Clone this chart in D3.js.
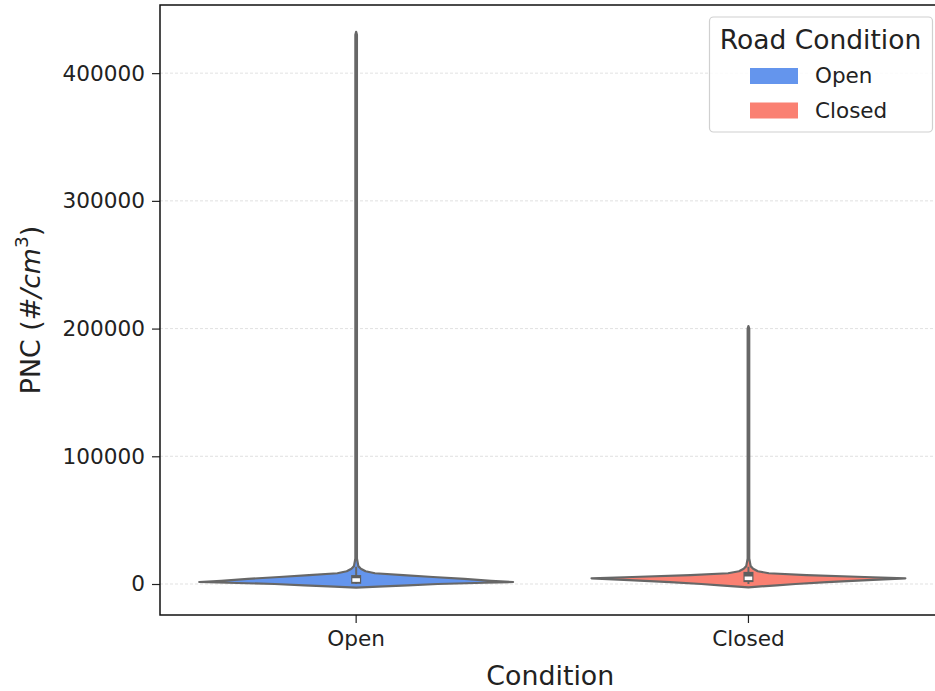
<!DOCTYPE html>
<html>
<head>
<meta charset="utf-8">
<script src="https://cdn.jsdelivr.net/npm/d3@7"></script>
<style>
  body { margin: 0; background: #fff; }
  svg { display: block; font-family: "DejaVu Sans", sans-serif; }
</style>
</head>
<body>
<div id="chart"></div>
<script>
// categories + colours
var categories = ["Open", "Closed"];
var colors = ["#6495ED", "#FA8072"];

// density profile (PNC value, relative width)
var openPnc     = [-2800, -2000, -1000, 0, 1000, 1566, 2500, 4000, 5500, 7000, 8400, 10000, 12000, 14000, 20000, 430000, 432400];
var openDensity = [0, 0.14, 0.33, 0.52, 0.82, 1.0, 0.86, 0.69, 0.49, 0.30, 0.12, 0.06, 0.03, 0.014, 0.005, 0.005, 0];

var closedPnc     = [-2600, -1000, 0, 1500, 3000, 4460, 5500, 7000, 8400, 10000, 12000, 14000, 20000, 200000, 202000];
var closedDensity = [0, 0.18, 0.30, 0.50, 0.76, 1.0, 0.74, 0.37, 0.13, 0.06, 0.03, 0.014, 0.005, 0.005, 0];

// inner box stats
var q1s = [200, 1500];
var medians = [3100, 4460];
var q3s = [7000, 9500];
var whiskLo = [0, 0];
var whiskHi = [13500, 13500];

var yTicks = [0, 100000, 200000, 300000, 400000];
var yDomain = [-24270, 453360];

var width = 935, height = 691;
var margin = {top: 5, left: 160, bottom: 76};
var plotRight = 944.6;   // right spine sits just past the window edge

var svg = d3.select("#chart").append("svg")
    .attr("width", width)
    .attr("height", height);

var x = d3.scaleBand()
    .domain(categories)
    .range([margin.left, plotRight])
    .padding(0);

var y = d3.scaleLinear()
    .domain(yDomain)
    .range([height - margin.bottom, margin.top]);

// grid
svg.append("g").selectAll("line")
    .data(yTicks)
    .enter().append("line")
    .attr("x1", margin.left)
    .attr("x2", plotRight)
    .attr("y1", function(d){ return y(d); })
    .attr("y2", function(d){ return y(d); })
    .attr("stroke", "#d9d9d9")
    .attr("stroke-width", 0.8)
    .attr("stroke-dasharray", "3,2");

// violins
var profiles = [
    {pnc: openPnc, dens: openDensity},
    {pnc: closedPnc, dens: closedDensity}
];
var halfMax = x.bandwidth() * 0.4;

profiles.forEach(function(p, i){
    var cx = x(categories[i]) + x.bandwidth() / 2;
    var pts = p.pnc.map(function(v, j){ return {v: v, d: p.dens[j]}; });
    var area = d3.area()
        .y(function(d){ return y(d.v); })
        .x0(function(d){ return cx - d.d * halfMax; })
        .x1(function(d){ return cx + d.d * halfMax; });
    svg.append("path")
        .datum(pts)
        .attr("d", area)
        .attr("fill", colors[i])
        .attr("stroke", "#676767")
        .attr("stroke-width", 2.2)
        .attr("stroke-linejoin", "round");

    // inner box
    svg.append("line")
        .attr("x1", cx).attr("x2", cx)
        .attr("y1", y(whiskLo[i])).attr("y2", y(whiskHi[i]))
        .attr("stroke", "#676767").attr("stroke-width", 2);
    svg.append("rect")
        .attr("x", cx - 5).attr("width", 10)
        .attr("y", y(q3s[i])).attr("height", y(q1s[i]) - y(q3s[i]))
        .attr("fill", "#5e5e5e");
    svg.append("rect")
        .attr("x", cx - 3.8).attr("width", 7.6)
        .attr("y", y(medians[i]) - 1.8).attr("height", 3.6)
        .attr("fill", "#fff");
});

// axes
var yAxis = svg.append("g")
    .attr("transform", "translate(" + margin.left + ",0)")
    .call(d3.axisLeft(y).tickValues(yTicks).tickSize(8).tickPadding(7).tickFormat(d3.format("d")));
var xAxis = svg.append("g")
    .attr("transform", "translate(0," + (height - margin.bottom) + ")")
    .call(d3.axisBottom(x).tickSize(8).tickPadding(8));

[xAxis, yAxis].forEach(function(a){
    a.select(".domain").remove();
    a.selectAll(".tick line").attr("stroke", "#222").attr("stroke-width", 1.2);
    a.selectAll(".tick text").attr("fill", "#222").style("font-size", "21.6px").attr("font-family", "DejaVu Sans");
});

// spines
svg.append("rect")
    .attr("x", margin.left).attr("y", margin.top)
    .attr("width", plotRight - margin.left)
    .attr("height", height - margin.bottom - margin.top)
    .attr("fill", "none").attr("stroke", "#111").attr("stroke-width", 1.5);

// axis labels
svg.append("text").text("Condition")
    .attr("x", (margin.left + plotRight) / 2 - 2).attr("y", 685)
    .attr("text-anchor", "middle").style("font-size", "26.8px").attr("fill", "#222");

var yl = svg.append("text")
    .attr("transform", "translate(40,310) rotate(-90)")
    .attr("text-anchor", "middle").style("font-size", "26.8px").attr("fill", "#222");
yl.append("tspan").text("PNC (");
yl.append("tspan").text("#/cm").style("font-style", "italic");
yl.append("tspan").text("3").style("font-size", "18.5px").attr("dy", -12);
yl.append("tspan").text(")").attr("dy", 12);

// legend
var lg = svg.append("g");
lg.append("rect")
    .attr("x", 709.5).attr("y", 17).attr("width", 223).attr("height", 115)
    .attr("rx", 4).attr("fill", "#fff").attr("fill-opacity", 0.85)
    .attr("stroke", "#d0d0d0").attr("stroke-width", 1.2);
lg.append("text").text("Road Condition")
    .attr("x", 820.5).attr("y", 48.5).attr("text-anchor", "middle")
    .style("font-size", "26.5px").attr("fill", "#222");
categories.forEach(function(c, i){
    var yy = 68 + i * 34.5;
    lg.append("rect").attr("x", 750).attr("y", yy).attr("width", 48).attr("height", 16)
        .attr("fill", colors[i]);
    lg.append("text").text(c).attr("x", 815).attr("y", yy + 15)
        .style("font-size", "21.5px").attr("fill", "#222");
});
</script>
</body>
</html>
